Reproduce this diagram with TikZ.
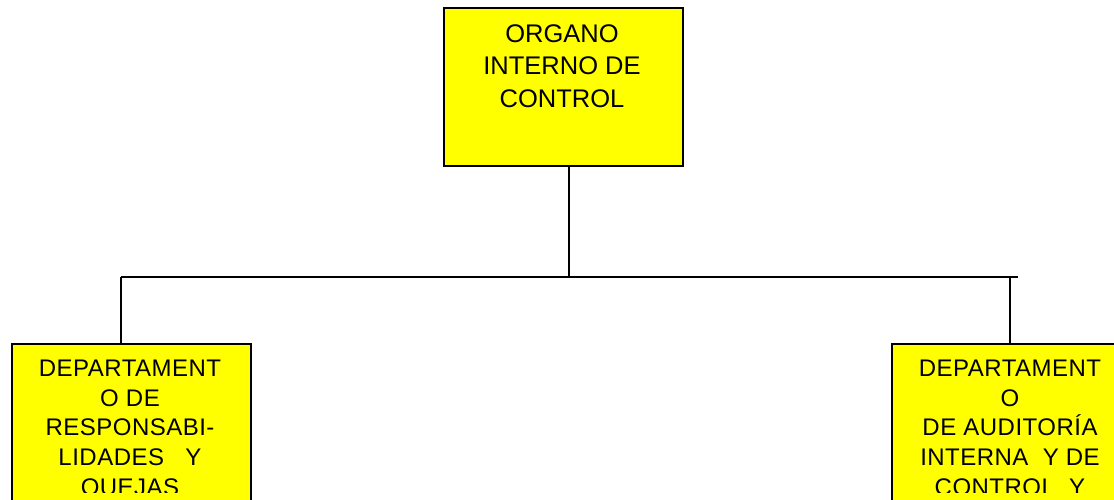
\documentclass[tikz,border=0pt]{standalone}
\usepackage{fontspec}
\setmainfont{Liberation Sans}
\newfontfamily\spacedfont[LetterSpace=2]{Liberation Sans}
\definecolor{boxyellow}{HTML}{FFFF00}
\begin{document}
\begin{tikzpicture}[x=1pt,y=-1pt,
  orgbox/.style={draw=black, fill=boxyellow, line width=2pt, rectangle, inner sep=0pt, anchor=north west},
  toptext/.style={font=\fontsize{25.5}{32.3}\selectfont, align=center, anchor=north, inner sep=0pt},
  subtext/.style={font=\spacedfont\fontsize{24}{29.6}\selectfont, align=center, anchor=north, inner sep=0pt},
  conn/.style={line width=2pt}]
\useasboundingbox (0,0) rectangle (1114,500);
\clip (0,0) rectangle (1114,500);
% boxes
\node[orgbox, minimum width=239pt, minimum height=158pt] (oic) at (442.7,7) {};
\node[orgbox, minimum width=239pt, minimum height=200pt] (dr) at (11,343) {};
\node[orgbox, minimum width=239pt, minimum height=200pt] (da) at (891,343) {};
% texts
\node[toptext] (oict) at (562,24.5) {ORGANO\\INTERNO DE\\CONTROL};
\begin{scope}
\clip (0,0) rectangle (1114,492);
\node[subtext] (drt) at (130,360) {DEPARTAMENT\\O DE\\RESPONSABI-\\LIDADES\ \ \ Y\\QUEJAS};
\node[subtext] (dat) at (1010,360) {DEPARTAMENT\\O\\DE AUDITORÍA\\INTERNA\ \ Y DE\\CONTROL\ \ Y};
\end{scope}
% connectors
\coordinate (bus) at (569,277);
\coordinate (jl) at (121,277);
\coordinate (jr) at (1010,277);
\coordinate (hend) at (1018,277);
\draw[conn] (oic.south -| bus) -- (bus);
\draw[conn] (jl) -- (hend);
\draw[conn] (jl) -- (jl |- dr.north);
\draw[conn] ([yshift=1pt]jr) -- (jr |- da.north);
\end{tikzpicture}
\end{document}
